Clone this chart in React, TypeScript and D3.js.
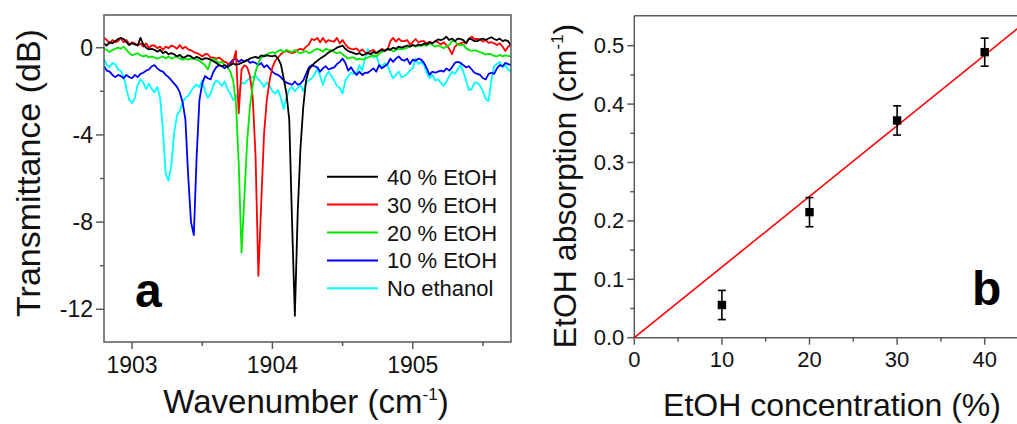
import React from "react";
import * as d3 from "d3";

// ---------- Panel a: transmittance spectra ----------
const WN_START = 1902.8;
const WN_STEP = 0.02;

// rows of 10 points = 0.2 cm^-1 each (1902.80 ... 1905.70)
const etoh40 = [
  0.2, 0.1, 0.25, 0.2, 0.3, 0.4, 0.45, 0.4, 0.25, 0.12,
  0.2, 0.15, 0.1, 0.45, 0.15, 0.0, -0.08, -0.05, -0.1, -0.18,
  -0.1, -0.25, -0.18, -0.3, -0.25, -0.3, -0.4, -0.33, -0.45, -0.42,
  -0.35, -0.4, -0.5, -0.42, -0.48, -0.55, -0.48, -0.5, -0.55, -0.62,
  -0.7, -0.8, -0.85, -0.8, -0.9, -0.8, -0.72, -0.78, -0.75, -0.7,
  -0.62, -0.58, -0.5, -0.45, -0.42, -0.48, -0.35, -0.4, -0.35, -0.38,
  -0.4, -0.35, -0.5, -0.75, -1.4, -2.1, -3.3, -8.0, -12.3, -7.6,
  -4.6, -2.7, -1.5, -1.0, -0.85, -0.7, -0.6, -0.5, -0.42, -0.33,
  -0.22, -0.15, -0.08, 0.0, 0.05, 0.1, -0.05, -0.15, -0.2, -0.25,
  -0.3, -0.25, -0.35, -0.3, -0.25, -0.3, -0.2, -0.25, -0.15, -0.1,
  -0.15, -0.05, -0.1, 0.0, -0.05, 0.05, 0.0, 0.05, 0.1, 0.05,
  0.12, 0.08, 0.15, 0.1, 0.2, 0.15, 0.25, 0.2, 0.3, 0.38,
  0.35, 0.4, 0.5, 0.35, 0.42, 0.3, 0.42, 0.4, 0.35, 0.2,
  0.42, 0.38, 0.3, 0.3, 0.38, 0.42, 0.35, 0.42, 0.48, 0.4,
  0.35, 0.42, 0.3, 0.35, 0.3, 0.1,
];
const etoh30 = [
  0.45, 0.35, 0.2, 0.35, 0.25, 0.3, 0.45, 0.25, 0.35, 0.15,
  0.25, 0.2, 0.1, 0.2, 0.05, 0.2, 0.0, 0.1, 0.1, -0.02,
  0.05, -0.1, 0.05, -0.02, 0.1, 0.05, -0.05, 0.12, -0.05, 0.05,
  -0.08, -0.12, -0.2, -0.25, -0.3, -0.4, -0.3, -0.3, -0.45, -0.45,
  -0.5, -0.45, -0.55, -0.65, -0.7, -0.8, -0.65, -0.15, -3.0, -1.0,
  -0.8, -0.9, -1.3, -2.3, -5.0, -10.46, -7.2, -4.0, -2.4, -1.5,
  -0.9, -0.6, -0.45, -0.3, -0.2, -0.15, -0.2, -0.25, -0.2, -0.1,
  -0.05, -0.1, 0.05, 0.15, 0.4, 0.35, 0.45, 0.25, 0.45, 0.25,
  0.35, 0.3, 0.28, 0.45, 0.2, 0.35, 0.15, 0.0, -0.05, -0.08,
  -0.03, -0.18, -0.08, -0.22, -0.25, -0.15, -0.1, -0.25, -0.18, -0.05,
  -0.12, -0.1, 0.3, 0.45, 0.28, 0.42, 0.3, 0.3, 0.35, 0.15,
  0.25, 0.4, 0.25, 0.3, 0.3, 0.2, 0.27, 0.22, 0.3, 0.25,
  0.15, 0.25, 0.12, -0.05, -0.3, 0.05, 0.15, 0.2, 0.25, 0.2,
  0.4, 0.5, 0.4, 0.4, 0.38, 0.28, 0.35, 0.22, 0.25, 0.2,
  0.12, 0.2, 0.05, -0.15, 0.05, 0.12,
];
const etoh20 = [
  -0.05, -0.1, -0.2, -0.1, -0.05, 0.0, -0.05, 0.05, -0.1, -0.25,
  -0.35, -0.3, -0.25, -0.35, -0.4, -0.35, -0.45, -0.4, -0.45, -0.5,
  -0.45, -0.4, -0.5, -0.4, -0.5, -0.45, -0.4, -0.5, -0.55, -0.5,
  -0.55, -0.5, -0.5, -0.55, -0.6, -0.7, -0.8, -1.0, -0.6, -0.5,
  -0.6, -0.7, -0.65, -0.8, -0.9, -1.1, -1.5, -2.5, -5.3, -9.4,
  -6.9, -4.3, -2.7, -1.7, -1.1, -0.7, -0.45, -0.35, -0.3, -0.25,
  -0.2, -0.25, -0.15, -0.1, -0.2, -0.1, -0.15, -0.2, -0.1, -0.2,
  -0.25, -0.2, -0.15, -0.25, -0.2, -0.1, -0.05, -0.1, -0.18, -0.05,
  -0.1, -0.12, -0.2, -0.25, -0.2, -0.3, -0.4, -0.5, -0.45, -0.45,
  -0.55, -0.5, -0.55, -0.5, -0.45, -0.4, -0.35, -0.4, -0.28, -0.2,
  -0.15, -0.08, -0.05, -0.18, -0.1, -0.05, -0.08, -0.05, 0.0, 0.05,
  0.12, 0.05, 0.08, 0.1, 0.12, 0.08, 0.2, 0.12, 0.05, 0.1,
  0.05, -0.03, 0.05, 0.12, 0.3, 0.3, 0.15, 0.1, 0.15, -0.03,
  -0.1, -0.15, -0.12, -0.15, -0.2, -0.25, -0.32, -0.28, -0.3, -0.38,
  -0.4, -0.33, -0.4, -0.35, -0.38, -0.4,
];
const etoh10 = [
  -0.85, -1.05, -1.1, -1.25, -1.35, -1.25, -1.3, -1.4, -1.25, -1.35,
  -1.4, -1.25, -1.35, -1.2, -1.15, -1.05, -1.0, -0.85, -0.8, -0.95,
  -1.05, -1.1, -1.25, -1.35, -1.5, -1.65, -1.8, -2.05, -2.5, -3.3,
  -5.9, -8.0, -8.6, -5.0, -2.4, -1.65, -1.3, -1.4, -1.45, -1.1,
  -0.9, -0.8, -0.85, -0.95, -0.8, -0.7, -0.55, -0.5, -0.65, -0.55,
  -0.65, -0.55, -0.7, -0.65, -0.7, -0.8, -0.7, -0.9, -0.8, -0.95,
  -1.1, -1.2, -1.25, -1.35, -1.5, -1.6, -1.65, -1.7, -1.55, -1.7,
  -1.65, -1.5, -1.2, -0.9, -0.8, -0.85, -0.9, -1.1, -0.95, -0.85,
  -1.0, -0.95, -0.9, -0.75, -0.65, -0.5, -0.7, -1.05, -0.9, -1.1,
  -1.25, -1.1, -1.25, -1.15, -1.15, -1.05, -0.95, -1.1, -0.8, -0.95,
  -0.85, -0.75, -0.5, -0.65, -0.5, -0.4, -0.55, -0.6, -0.5, -0.75,
  -0.55, -0.6, -0.5, -0.55, -0.7, -0.95, -1.25, -1.1, -1.15, -1.1,
  -1.05, -1.1, -0.95, -1.05, -0.9, -0.7, -0.65, -0.7, -0.8, -0.9,
  -0.85, -1.0, -1.15, -1.2, -1.25, -1.4, -1.45, -1.2, -1.15, -1.2,
  -0.95, -0.8, -0.85, -0.7, -0.75, -0.8,
];
const noEthanol = [
  -0.5, -0.8, -0.9, -0.7, -0.75, -1.0, -1.05, -1.3, -1.9, -2.4,
  -2.55, -2.3, -1.7, -1.45, -1.6, -1.9, -1.65, -1.9, -2.05, -1.8,
  -2.3, -3.8, -5.8, -6.1, -5.4, -3.9, -3.1, -2.9, -2.5, -2.3,
  -2.2, -2.0, -1.8, -1.7, -1.8, -1.5, -2.0, -2.3, -2.1, -1.7,
  -1.5, -1.6, -1.75, -1.55, -1.9, -2.1, -2.4, -2.3, -2.0, -1.6,
  -1.65, -1.5, -1.4, -1.35, -1.3, -1.45, -1.6, -1.8, -1.6, -1.75,
  -2.0, -2.1, -1.95, -2.3, -2.8, -2.3, -1.9, -1.8, -2.0, -1.85,
  -1.7, -2.0, -1.6, -1.5, -1.4, -1.25, -0.95, -1.3, -1.7, -1.3,
  -1.1, -1.3, -1.5, -1.75, -1.85, -2.1, -1.5, -1.3, -1.15, -1.2,
  -1.2, -0.8, -1.05, -0.5, -0.05, -0.3, -0.45, -0.35, -0.75, -0.9,
  -0.7, -0.8, -1.15, -1.4, -1.25, -1.1, -1.35, -1.3, -1.2, -1.05,
  -0.95, -0.5, -0.75, -0.65, -0.8, -1.15, -1.4, -1.25, -1.5, -1.45,
  -1.6, -1.75, -1.55, -1.3, -1.1, -1.2, -1.0, -0.8, -1.1, -1.5,
  -1.95, -1.9, -1.6, -1.6, -1.75, -2.0, -2.35, -2.45, -1.5, -0.85,
  -0.75, -0.65, -0.9, -0.8, -1.0, -1.1,
];

const legendLabels = ["40 % EtOH", "30 % EtOH", "20 % EtOH", "10 % EtOH", "No ethanol"];
const legendColors = ["#000000", "#ff0000", "#00e800", "#0000ff", "#00ffff"];
const spectra = [etoh40, etoh30, etoh20, etoh10, noEthanol];
const drawOrder = [4, 3, 1, 2, 0];

const xTicksA = [1903, 1904, 1905];
const xMinorA = [1903.5, 1904.5, 1905.5];
const yTicksA = [0, -4, -8, -12];
const yMinorA = [-2, -6, -10];

// ---------- Panel b: absorption vs concentration ----------
const concentration = [10, 20, 30, 40];
const absorption = [0.056, 0.215, 0.372, 0.489];
const absorptionErr = [0.025, 0.025, 0.025, 0.024];
const fitSlope = 0.0121;
const xTicksB = [0, 10, 20, 30, 40];
const xMinorB = [5, 15, 25, 35];
const yTicksB = [0, 0.1, 0.2, 0.3, 0.4, 0.5];
const yMinorB = [0.05, 0.15, 0.25, 0.35, 0.45];

const FONT = "'Liberation Sans', Arial, Helvetica, sans-serif";
const AXIS = "#5a5a5a";

export default function App() {
  const W = 1017;
  const H = 424;

  const A = { left: 104, right: 511, top: 15, bottom: 342 };
  const xA = d3.scaleLinear().domain([1902.8, 1905.7]).range([A.left, A.right]);
  const yA = d3.scaleLinear().domain([-13.5, 1.5]).range([A.bottom, A.top]);
  const wn = d3.range(etoh40.length).map((i) => WN_START + i * WN_STEP);
  const lineA = d3
    .line<number>()
    .x((_, i) => xA(wn[i]))
    .y((d) => yA(d));

  const B = { left: 634.3, right: 1028.5, top: 15.7, bottom: 337.7 };
  const xB = d3.scaleLinear().domain([0, 45]).range([B.left, B.right]);
  const yB = d3.scaleLinear().domain([0, 0.5514]).range([B.bottom, B.top]);

  const legendX = 327;
  const legendY0 = 176.7;
  const legendDy = 27.9;

  return (
    <svg
      width={W}
      height={H}
      style={{ position: "absolute", left: 0, top: 0, background: "#fff" }}
      fontFamily={FONT}
    >
      <rect x={0} y={0} width={W} height={H} fill="#fff" />
      <defs>
        <clipPath id="clipA">
          <rect x={A.left} y={A.top} width={A.right - A.left} height={A.bottom - A.top} />
        </clipPath>
      </defs>

      {/* ===== Panel a ===== */}
      <g clipPath="url(#clipA)">
        {drawOrder.map((k) => (
          <path
            key={k}
            d={lineA(spectra[k]) || ""}
            fill="none"
            stroke={legendColors[k]}
            strokeWidth={1.8}
            strokeLinejoin="round"
          />
        ))}
      </g>
      <rect
        x={A.left}
        y={A.top}
        width={A.right - A.left}
        height={A.bottom - A.top}
        fill="none"
        stroke={AXIS}
        strokeWidth={1.5}
      />
      {yTicksA.map((t) => (
        <g key={"ya" + t}>
          <line x1={A.left - 8} x2={A.left} y1={yA(t)} y2={yA(t)} stroke={AXIS} strokeWidth={1.5} />
          <text x={A.left - 11} y={yA(t) + 8} fontSize={23} textAnchor="end" fill="#111">
            {t === 0 ? "0" : "-" + Math.abs(t)}
          </text>
        </g>
      ))}
      {yMinorA.map((t) => (
        <line key={"yam" + t} x1={A.left - 4} x2={A.left} y1={yA(t)} y2={yA(t)} stroke={AXIS} strokeWidth={1.5} />
      ))}
      {xTicksA.map((t) => (
        <g key={"xa" + t}>
          <line x1={xA(t)} x2={xA(t)} y1={A.bottom} y2={A.bottom + 7} stroke={AXIS} strokeWidth={1.5} />
          <text x={xA(t)} y={373} fontSize={23} textAnchor="middle" fill="#111">
            {t}
          </text>
        </g>
      ))}
      {xMinorA.map((t) => (
        <line key={"xam" + t} x1={xA(t)} x2={xA(t)} y1={A.bottom} y2={A.bottom + 4} stroke={AXIS} strokeWidth={1.5} />
      ))}
      <text x={306} y={413} fontSize={33} textAnchor="middle" fill="#111">
        Wavenumber (cm<tspan fontSize={17} dy={-13}>-1</tspan>
        <tspan dy={13}>)</tspan>
      </text>
      <text
        transform={`translate(40,${173}) rotate(-90)`}
        fontSize={34}
        textAnchor="middle"
        fill="#111"
      >
        Transmittance (dB)
      </text>
      <text x={135} y={307} fontSize={48} fontWeight="bold" fill="#000">
        a
      </text>

      {legendLabels.map((lab, i) => (
        <g key={lab}>
          <line
            x1={legendX}
            x2={legendX + 51}
            y1={legendY0 + i * legendDy}
            y2={legendY0 + i * legendDy}
            stroke={legendColors[i]}
            strokeWidth={2}
          />
          <text x={legendX + 60} y={legendY0 + i * legendDy + 8} fontSize={22} fill="#111">
            {lab}
          </text>
        </g>
      ))}

      {/* ===== Panel b ===== */}
      <line x1={B.left} x2={B.right} y1={B.top} y2={B.top} stroke={AXIS} strokeWidth={1.5} />
      <line x1={B.left} x2={B.right} y1={B.bottom} y2={B.bottom} stroke={AXIS} strokeWidth={1.5} />
      <line x1={B.left} x2={B.left} y1={B.top} y2={B.bottom} stroke={AXIS} strokeWidth={1.5} />
      {yTicksB.map((t) => (
        <g key={"yb" + t}>
          <line x1={B.left - 7} x2={B.left} y1={yB(t)} y2={yB(t)} stroke={AXIS} strokeWidth={1.5} />
          <text x={B.left - 10} y={yB(t) + 7.5} fontSize={22} textAnchor="end" fill="#111">
            {t.toFixed(1)}
          </text>
        </g>
      ))}
      {yMinorB.map((t) => (
        <line key={"ybm" + t} x1={B.left - 4} x2={B.left} y1={yB(t)} y2={yB(t)} stroke={AXIS} strokeWidth={1.5} />
      ))}
      {xTicksB.map((t) => (
        <g key={"xb" + t}>
          <line x1={xB(t)} x2={xB(t)} y1={B.bottom} y2={B.bottom + 7} stroke={AXIS} strokeWidth={1.5} />
          <text x={xB(t)} y={367} fontSize={22} textAnchor="middle" fill="#111">
            {t}
          </text>
        </g>
      ))}
      {xMinorB.map((t) => (
        <line key={"xbm" + t} x1={xB(t)} x2={xB(t)} y1={B.bottom} y2={B.bottom + 4} stroke={AXIS} strokeWidth={1.5} />
      ))}
      <line
        x1={xB(0)}
        y1={yB(0)}
        x2={xB(45)}
        y2={yB(fitSlope * 45)}
        stroke="#ff0000"
        strokeWidth={1.6}
      />
      {concentration.map((c, i) => {
        const cx = xB(c);
        const y0 = yB(absorption[i] - absorptionErr[i]);
        const y1 = yB(absorption[i] + absorptionErr[i]);
        return (
          <g key={"pt" + c}>
            <line x1={cx} x2={cx} y1={y0} y2={y1} stroke="#000" strokeWidth={1.6} />
            <line x1={cx - 4} x2={cx + 4} y1={y0} y2={y0} stroke="#000" strokeWidth={1.6} />
            <line x1={cx - 4} x2={cx + 4} y1={y1} y2={y1} stroke="#000" strokeWidth={1.6} />
            <rect x={cx - 4.2} y={yB(absorption[i]) - 4.2} width={8.4} height={8.4} fill="#000" />
          </g>
        );
      })}
      <text x={832} y={416} fontSize={32} textAnchor="middle" fill="#111">
        EtOH concentration (%)
      </text>
      <text
        transform={`translate(576,${186}) rotate(-90)`}
        fontSize={32}
        textAnchor="middle"
        fill="#111"
      >
        EtOH absorption (cm<tspan fontSize={17} dy={-13}>-1</tspan>
        <tspan dy={13}>)</tspan>
      </text>
      <text x={972} y={305} fontSize={48} fontWeight="bold" fill="#000">
        b
      </text>
    </svg>
  );
}
